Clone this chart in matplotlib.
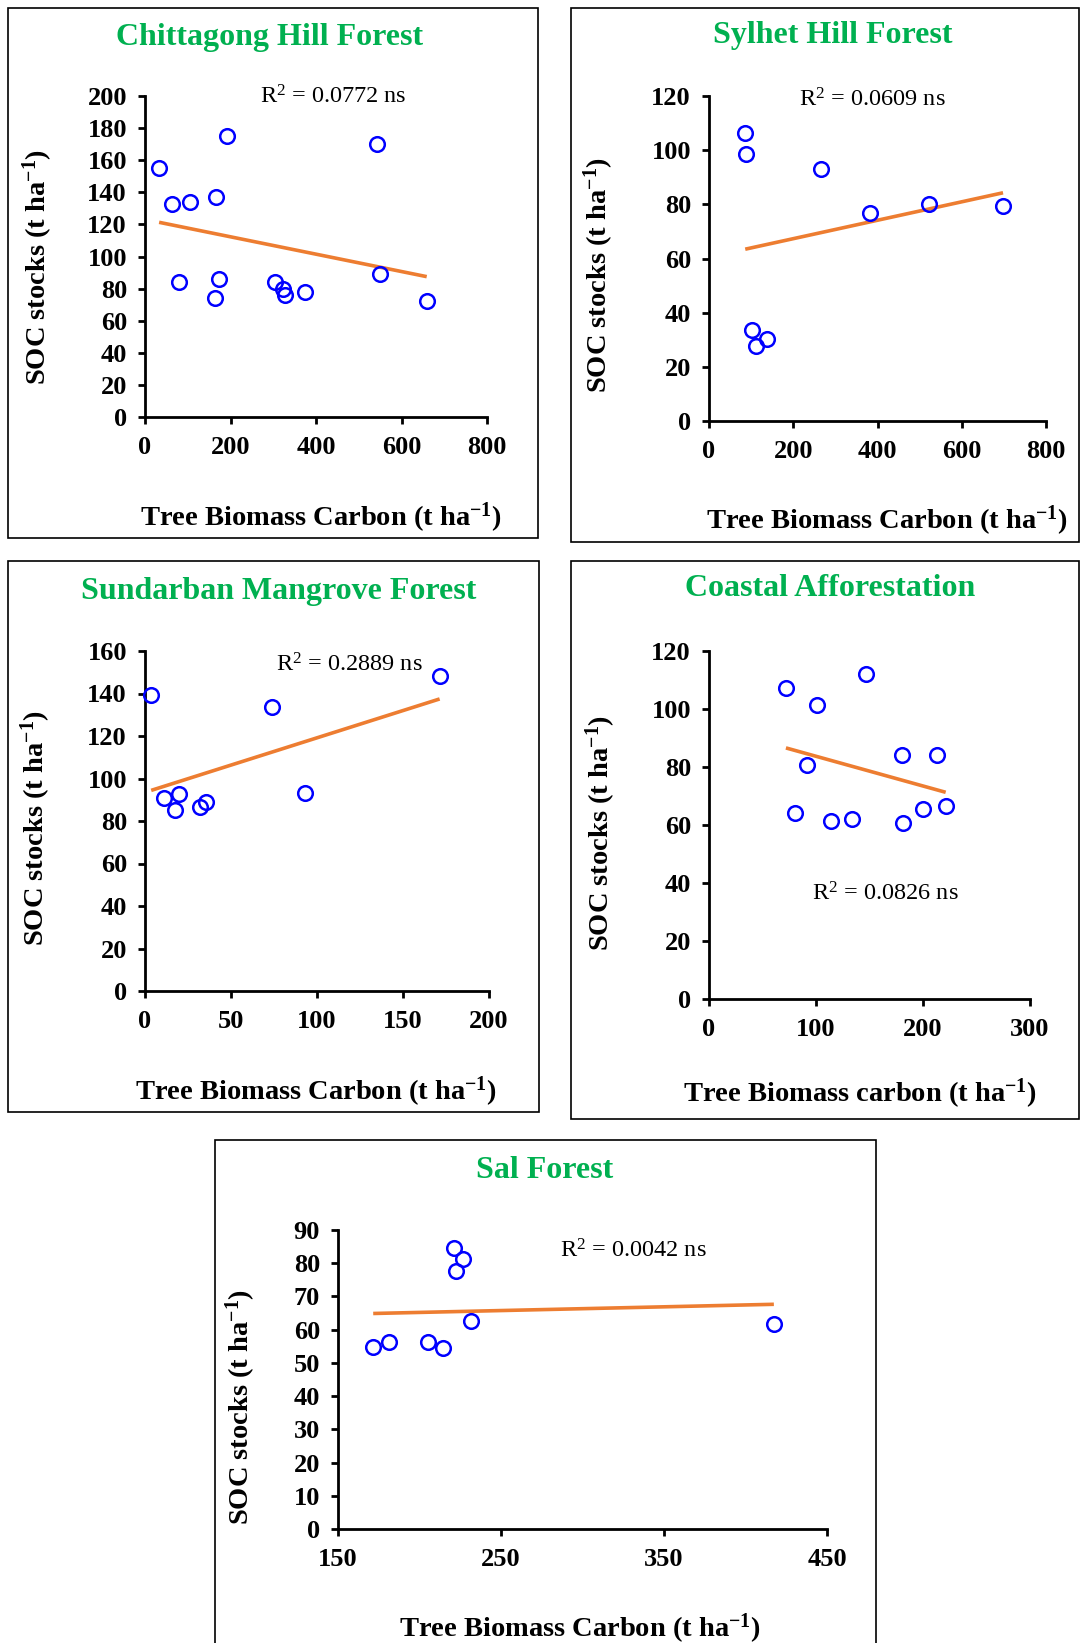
import numpy as np
import matplotlib
matplotlib.use("Agg")
import matplotlib.pyplot as plt
from matplotlib.patches import Rectangle

plt.rcParams["font.family"] = ["Liberation Serif", "DejaVu Serif"]
plt.rcParams["mathtext.fontset"] = "custom"
plt.rcParams["mathtext.rm"] = "Liberation Serif"
plt.rcParams["mathtext.bf"] = "Liberation Serif:bold"
plt.rcParams["mathtext.it"] = "Liberation Serif:italic"

W, H = 1089, 1643

# ---- data: tree biomass carbon (x) vs SOC stocks (y), t ha-1 ----
chittagong_x = [33, 62, 106, 166, 191, 80, 173, 164, 304, 322, 327, 375, 543, 550, 659]
chittagong_y = [155, 133, 134, 137, 175, 84, 86, 74, 84, 80, 76, 78, 170, 89, 72]

sylhet_x = [86, 89, 266, 382, 522, 698, 101, 111, 137]
sylhet_y = [106.5, 98.5, 93, 76.7, 80.1, 79.5, 33.6, 27.7, 30.4]

sundarban_x = [3.6, 10.9, 17.6, 19.8, 31.9, 35.6, 74.1, 93.3, 171.3]
sundarban_y = [139.2, 90.6, 85.0, 92.9, 86.7, 89.1, 133.6, 93.4, 148.4]

coastal_x = [71.9, 100.8, 146.9, 91.4, 180.0, 212.7, 80.4, 113.8, 133.9, 180.9, 199.8, 221.2]
coastal_y = [107.2, 101.5, 112.2, 80.8, 84.0, 84.1, 64.0, 61.3, 62.0, 60.6, 65.6, 66.4]

sal_x = [171.6, 181.5, 205.0, 214.3, 221.3, 226.9, 222.1, 231.7, 417.4]
sal_y = [54.7, 56.2, 56.4, 54.4, 84.7, 81.4, 77.8, 62.6, 61.8]

titles = ["Chittagong Hill Forest", "Sylhet Hill Forest", "Sundarban Mangrove Forest",
          "Coastal Afforestation", "Sal Forest"]
r2_labels = ["0.0772", "0.0609", "0.2889", "0.0826", "0.0042"]
x_labels = ["Tree Biomass Carbon", "Tree Biomass Carbon", "Tree Biomass Carbon",
            "Tree Biomass carbon", "Tree Biomass Carbon"]

x_ticks = [np.arange(0, 801, 200), np.arange(0, 801, 200), np.arange(0, 201, 50),
           np.arange(0, 301, 100), np.arange(150, 451, 100)]
y_ticks = [np.arange(0, 201, 20), np.arange(0, 121, 20), np.arange(0, 161, 20),
           np.arange(0, 121, 20), np.arange(0, 91, 10)]

xs = [chittagong_x, sylhet_x, sundarban_x, coastal_x, sal_x]
ys = [chittagong_y, sylhet_y, sundarban_y, coastal_y, sal_y]

# ---- layout in pixels ----
# panel frame: (left, top, right, bottom)
frames = [(8, 8, 538, 538), (571, 8, 1079, 542), (8, 561, 539, 1112),
          (571, 561, 1079, 1119), (215, 1140, 876, 1660)]
# axes box: (x at xmin, x at xmax, y at ymax, y at ymin)
axes_px = [(145, 487, 96, 417), (709, 1046, 96, 421), (145, 489, 651, 991),
           (709, 1030, 651, 999), (338, 827, 1230, 1529)]
title_pos = [(270, 37), (833, 35), (279, 591), (830, 589), (545, 1171)]
ylabel_pos = [(38, 267), (599, 275), (36, 828), (601, 833), (241, 1407)]
xlabel_pos = [(321, 518), (887, 521), (316, 1092), (860, 1094), (580, 1629)]
r2_pos = [(260, 97), (799, 100), (276, 665), (812, 894), (560, 1251)]

GREEN = "#00B050"
ORANGE = "#ED7D31"
BLUE = "#0000FF"

fig = plt.figure(figsize=(W / 100, H / 100), dpi=100)


def fx(x):
    return x / W


def fy(y):
    return 1 - y / H


for i in range(5):
    l, t, r, b = frames[i]
    fig.patches.append(Rectangle((fx(l), fy(b)), (r - l) / W, (b - t) / H,
                                 transform=fig.transFigure, fill=False,
                                 edgecolor="black", linewidth=1.2, zorder=0))

    x0, x1, yt, yb = axes_px[i]
    ax = fig.add_axes([fx(x0), fy(yb), (x1 - x0) / W, (yb - yt) / H])
    ax.patch.set_alpha(0)
    xv = np.asarray(xs[i], dtype=float)
    yv = np.asarray(ys[i], dtype=float)

    ax.plot(xv, yv, linestyle="none", marker="o", markersize=10.5,
            markerfacecolor="none", markeredgecolor=BLUE, markeredgewidth=1.8,
            clip_on=False, zorder=3)

    # linear trendline spanning the data range
    slope, intercept = np.polyfit(xv, yv, 1)
    xl = np.array([xv.min(), xv.max()])
    ax.plot(xl, slope * xl + intercept, color=ORANGE, linewidth=2.6,
            solid_capstyle="butt", zorder=2, clip_on=False)

    ax.set_xlim(x_ticks[i][0], x_ticks[i][-1])
    ax.set_ylim(y_ticks[i][0], y_ticks[i][-1])
    ax.set_xticks(x_ticks[i])
    ax.set_yticks(y_ticks[i])
    for s in ["top", "right"]:
        ax.spines[s].set_visible(False)
    for s in ["left", "bottom"]:
        ax.spines[s].set_linewidth(2.0)
    ax.tick_params(axis="both", direction="out", length=5, width=2.0,
                   labelsize=19)
    ax.tick_params(axis="x", pad=9)
    ax.tick_params(axis="y", pad=8)
    for lab in ax.get_xticklabels() + ax.get_yticklabels():
        lab.set_fontweight("bold")

    tx, ty = title_pos[i]
    fig.text(fx(tx), fy(ty), titles[i], color=GREEN, fontsize=23,
             fontweight="bold", ha="center", va="center")
    lx, ly = ylabel_pos[i]
    fig.text(fx(lx), fy(ly), r"SOC stocks (t ha$^{\mathbf{-1}}$)", rotation=90,
             fontsize=20.5, fontweight="bold", ha="center", va="center")
    bx, by = xlabel_pos[i]
    fig.text(fx(bx), fy(by), x_labels[i] + r" (t ha$^{\mathbf{-1}}$)",
             fontsize=20.5, fontweight="bold", ha="center", va="center")
    rx, ry = r2_pos[i]
    fig.text(fx(rx), fy(ry), r"R$^{\mathrm{2}}$ = " + r2_labels[i] + " ns",
             fontsize=17.5, ha="left", va="center")

fig.savefig("out.png", dpi=100, facecolor="white")
